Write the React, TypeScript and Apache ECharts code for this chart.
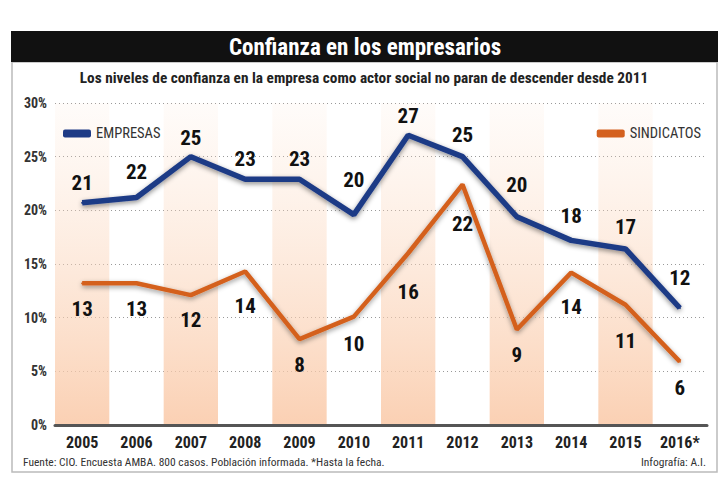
import React, { useEffect, useRef } from "react";
import * as echarts from "echarts";

const years = ["2005", "2006", "2007", "2008", "2009", "2010", "2011", "2012", "2013", "2014", "2015", "2016*"];
// plotted positions (as drawn in the reference)
const empresas = [20.7, 21.2, 25.0, 22.9, 22.9, 19.6, 27.0, 25.0, 19.4, 17.2, 16.4, 10.9];
const sindicatos = [13.2, 13.2, 12.1, 14.3, 8.0, 10.1, 16.0, 22.4, 8.9, 14.2, 11.2, 5.9];
// printed labels
const empresasLabels = ["21", "22", "25", "23", "23", "20", "27", "25", "20", "18", "17", "12"];
const sindicatosLabels = ["13", "13", "12", "14", "8", "10", "16", "22", "9", "14", "11", "6"];
const yTicks = [0, 5, 10, 15, 20, 25, 30];

// label gaps (layout only)
const empresasGap = [8, 14, 7, 9, 9, 23, 8, 10, 20, 13, 10, 19];
const sindicatosGap = [14, 14, 13, 23, 14, 16, 27, 28, 14, 23, 25, 15];

const FONT = "'Roboto Condensed', 'Open Sans Condensed', Roboto, sans-serif";
const BLUE = "#1e3b86";
const ORANGE = "#d4611f";

export default function App() {
  const ref = useRef<HTMLDivElement>(null);
  useEffect(() => {
    if (!ref.current) return;
    const chart = echarts.init(ref.current, null, { renderer: "svg" });
    const band = new echarts.graphic.LinearGradient(0, 0, 0, 1, [
      { offset: 0, color: "rgba(252,222,200,0.1)" },
      { offset: 1, color: "rgba(250,200,166,0.85)" },
    ]);
    chart.setOption({
      animation: false,
      backgroundColor: "#fff",
      textStyle: { fontFamily: FONT },
      graphic: [
        { type: "rect", shape: { x: 12, y: 62, width: 705, height: 410 }, style: { fill: "none", stroke: "#bbb", lineWidth: 1.5 }, z: 0 },
        { type: "rect", shape: { x: 11, y: 31, width: 707, height: 31 }, style: { fill: "#111" } },
        {
          type: "text", x: 365, y: 47,
          style: { text: "Confianza en los empresarios", fill: "#fff", font: `bold 23px ${FONT}`, align: "center", verticalAlign: "middle" },
        },
        {
          type: "text", x: 364, y: 78,
          style: { text: "Los niveles de confianza en la empresa como actor social no paran de descender desde 2011", fill: "#222", font: `bold 15.3px ${FONT}`, align: "center", verticalAlign: "middle" },
        },
        {
          type: "text", x: 23, y: 462,
          style: { text: "Fuente: CIO. Encuesta AMBA. 800 casos. Población informada. *Hasta la fecha.", fill: "#333", font: `11.5px ${FONT}`, align: "left", verticalAlign: "middle" },
        },
        {
          type: "text", x: 706, y: 462,
          style: { text: "Infografía: A.I.", fill: "#333", font: `11.5px ${FONT}`, align: "right", verticalAlign: "middle" },
        },
      ],
      legend: [
        {
          data: ["EMPRESAS"], left: 58, top: 121, itemWidth: 28, itemHeight: 8, icon: "roundRect",
          textStyle: { fontFamily: FONT, fontSize: 14.5, color: "#333" }, itemGap: 6,
        },
        {
          data: ["SINDICATOS"], right: 22, top: 121, itemWidth: 28, itemHeight: 8, icon: "roundRect",
          textStyle: { fontFamily: FONT, fontSize: 14.5, color: "#333" },
        },
      ],
      grid: { left: 55, right: 21, top: 103, bottom: 75 },
      xAxis: {
        type: "category",
        data: years,
        axisLine: { show: true, lineStyle: { color: "#555", width: 3 } },
        axisTick: { show: false },
        axisLabel: { interval: 0, fontFamily: FONT, fontWeight: "bold", fontSize: 16, color: "#222", margin: 9 },
        splitArea: { show: true, interval: 0, areaStyle: { color: [band, "rgba(255,255,255,0)"] } },
      },
      yAxis: {
        type: "value",
        min: 0, max: 30, interval: 5,
        axisLine: { show: false },
        axisTick: { show: false },
        axisLabel: {
          fontFamily: FONT, fontWeight: "bold", fontSize: 14, color: "#333", margin: 8,
          formatter: (v: number) => (yTicks.includes(v) ? `${v}%` : ""),
        },
        splitLine: { show: true, lineStyle: { color: "#999", type: [1, 3], width: 1.2 } },
      },
      series: [
        {
          name: "EMPRESAS", type: "line", z: 4,
          data: empresas.map((v, i) => ({ value: v, label: { distance: empresasGap[i] } })),
          symbol: "circle", symbolSize: 2, itemStyle: { color: BLUE },
          lineStyle: { color: BLUE, width: 5.5, shadowBlur: 5, shadowColor: "rgba(0,0,0,0.45)", shadowOffsetY: 2 },
          label: {
            show: true, position: "top",
            formatter: (p: any) => empresasLabels[p.dataIndex],
            fontFamily: FONT, fontWeight: "bold", fontSize: 21, color: "#111",
          },
        },
        {
          name: "SINDICATOS", type: "line", z: 3,
          data: sindicatos.map((v, i) => ({ value: v, label: { distance: sindicatosGap[i] } })),
          symbol: "circle", symbolSize: 2, itemStyle: { color: ORANGE },
          lineStyle: { color: ORANGE, width: 4.5, shadowBlur: 5, shadowColor: "rgba(0,0,0,0.4)", shadowOffsetY: 2 },
          label: {
            show: true, position: "bottom",
            formatter: (p: any) => sindicatosLabels[p.dataIndex],
            fontFamily: FONT, fontWeight: "bold", fontSize: 21, color: "#111",
          },
        },
      ],
    });
    return () => chart.dispose();
  }, []);
  return <div ref={ref} style={{ width: 728, height: 500, position: "absolute", left: 0, top: 0 }} />;
}
